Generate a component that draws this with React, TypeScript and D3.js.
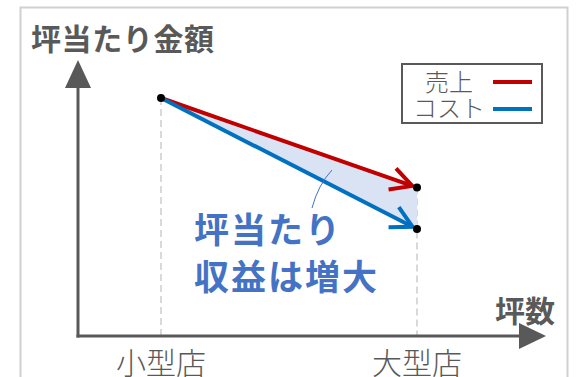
import React from "react";
import * as d3 from "d3";

const categories = ["小型店", "大型店"];
const salesValues = [85, 53];
const costValues = [85, 38.2];
const seriesNames = ["売上", "コスト"];
const title = "坪当たり金額";
const xTitle = "坪数";
const annotation = ["坪当たり", "収益は増大"];

const W = 577;
const H = 377;
const FONT = "'Noto Sans CJK JP', 'Noto Sans', sans-serif";
const GRAY = "#595959";
const RED = "#c00000";
const BLUE = "#0070c0";

export default function App() {
  const x = d3.scalePoint<string>().domain(categories).range([161, 417]);
  const y = d3.scaleLinear().domain([0, 100]).range([336, 56]);

  const ptsSales = categories.map((c, i) => [x(c)!, y(salesValues[i])] as [number, number]);
  const ptsCost = categories.map((c, i) => [x(c)!, y(costValues[i])] as [number, number]);

  const line = d3.line<[number, number]>();
  const area = [ptsSales[0], ptsSales[1], ptsCost[1], ptsCost[0]];

  const arrow = (pts: [number, number][], color: string) => {
    const [a, b] = pts;
    const dx = b[0] - a[0];
    const dy = b[1] - a[1];
    const len = Math.hypot(dx, dy);
    const ux = dx / len;
    const uy = dy / len;
    const tip: [number, number] = [b[0] - ux * 5, b[1] - uy * 5];
    const armLen = 24;
    const ang = (28 * Math.PI) / 180;
    const rot = (s: number): [number, number] => {
      const c = Math.cos(s * ang);
      const si = Math.sin(s * ang);
      const bx = -ux, by = -uy;
      const vx = bx * c - by * si;
      const vy = bx * si + by * c;
      return [tip[0] + vx * armLen, tip[1] + vy * armLen];
    };
    const p1 = rot(1);
    const p2 = rot(-1);
    return (
      <g>
        <path d={line([a, tip])!} stroke={color} strokeWidth={4} fill="none" />
        <path
          d={line([p1, tip, p2])!}
          stroke={color}
          strokeWidth={4}
          fill="none"
          strokeLinejoin="miter"
          strokeLinecap="butt"
        />
      </g>
    );
  };

  const axisX0 = 78;
  const axisY0 = y(0);

  return (
    <div style={{ position: "fixed", left: 0, top: 0 }}>
      <svg width={W} height={H} style={{ display: "block", background: "#fff" }}>
        {/* frame */}
        <path d={`M20.5,${H + 5} L20.5,7.5 L567.5,7.5 L567.5,${H + 5}`} fill="none" stroke="#d0d0d0" strokeWidth={2} />

        {/* title */}
        <text x={31} y={50} fontFamily={FONT} fontSize={30} fontWeight="bold" fill={GRAY} letterSpacing={0.6}>
          {title}
        </text>

        {/* dashed guides */}
        {categories.map((c, i) => (
          <line
            key={c}
            x1={x(c)}
            x2={x(c)}
            y1={i === 0 ? ptsSales[0][1] : ptsSales[1][1]}
            y2={axisY0}
            stroke="#d9d9d9"
            strokeWidth={2}
            strokeDasharray="7,4"
          />
        ))}

        {/* area between */}
        <path d={line(area)! + "Z"} fill="#dae3f3" stroke="none" />

        {arrow(ptsSales, RED)}
        {arrow(ptsCost, BLUE)}

        {/* points */}
        {[ptsSales[0], ptsSales[1], ptsCost[1]].map((p, i) => (
          <circle key={i} cx={p[0]} cy={p[1]} r={4} fill="#000" />
        ))}

        {/* pointer */}
        <path d="M332,170 Q318,185 312,208" fill="none" stroke="#4472c4" strokeWidth={1} />

        {/* annotation */}
        {annotation.map((t, i) => (
          <text
            key={t}
            x={194}
            y={243 + i * 47}
            fontFamily={FONT}
            fontSize={35}
            fontWeight="bold"
            fill="#4472c4"
            letterSpacing={2}
          >
            {t}
          </text>
        ))}

        {/* axes */}
        <line x1={axisX0} x2={axisX0} y1={axisY0 + 1.5} y2={84} stroke={GRAY} strokeWidth={3} />
        <path d={`M${axisX0},60 L${axisX0 + 13},88 L${axisX0 - 13},88 Z`} fill={GRAY} />
        <line x1={axisX0 - 1.5} x2={522} y1={axisY0} y2={axisY0} stroke={GRAY} strokeWidth={3} />
        <path d={`M546,${axisY0} L519,${axisY0 - 13} L519,${axisY0 + 13} Z`} fill={GRAY} />

        <text x={495} y={322} fontFamily={FONT} fontSize={30} fontWeight="bold" fill={GRAY}>
          {xTitle}
        </text>

        {categories.map((c) => (
          <text
            key={c}
            x={x(c)}
            y={374}
            textAnchor="middle"
            fontFamily={FONT}
            fontSize={30}
            fontWeight={300}
            fill={GRAY}
          >
            {c}
          </text>
        ))}

        {/* legend */}
        <rect x={402} y={64} width={140} height={59} fill="#fff" stroke={GRAY} strokeWidth={2} />
        {seriesNames.map((s, i) => (
          <g key={s}>
            <text
              x={449}
              y={91 + i * 26}
              textAnchor="middle"
              fontFamily={FONT}
              fontSize={24}
              fontWeight={300}
              fill={GRAY}
            >
              {s}
            </text>
            <line
              x1={493}
              x2={532}
              y1={82 + i * 27}
              y2={82 + i * 27}
              stroke={i === 0 ? RED : BLUE}
              strokeWidth={4}
            />
          </g>
        ))}
      </svg>
    </div>
  );
}
